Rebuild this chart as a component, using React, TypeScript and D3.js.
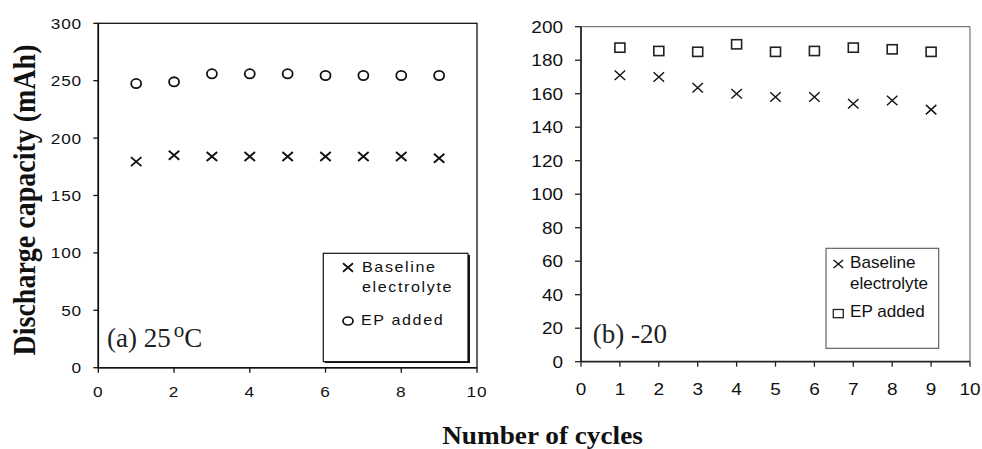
import React from "react";
import * as d3 from "d3";

// Cycle numbers shared by both panels
const cycles = [1, 2, 3, 4, 5, 6, 7, 8, 9];

// (a) 25 °C discharge capacity (mAh)
const baseline25 = [179.5, 185, 184, 184, 184, 184, 184, 184, 182.5];
const ep25 = [247.5, 249, 256, 256, 256, 254.5, 254.5, 254.5, 254.5];

// (b) -20 discharge capacity (mAh)
const baselineM20 = [171, 170, 163.5, 160, 158, 158, 154, 156, 150.5];
const epM20 = [187.5, 185.5, 185, 189.5, 185, 185.5, 187.5, 186.5, 185];

// Axis ticks
const xTicksA = [0, 2, 4, 6, 8, 10];
const yTicksA = [0, 50, 100, 150, 200, 250, 300];
const xTicksB = [0, 1, 2, 3, 4, 5, 6, 7, 8, 9, 10];
const yTicksB = [0, 20, 40, 60, 80, 100, 120, 140, 160, 180, 200];

const legendBaseline = ["Baseline", "electrolyte"];
const legendEP = "EP added";

const SANS = "'Liberation Sans', Arial, Helvetica, sans-serif";
const SERIF = "'Liberation Serif', 'Times New Roman', serif";

type STextProps = {
  x: number;
  y: number;
  sx?: number;
  anchor?: "start" | "middle" | "end";
  size: number;
  family?: string;
  spacing?: number;
  weight?: string | number;
  fill?: string;
  children: React.ReactNode;
};

// Text drawn with a horizontal stretch factor
function SText({ x, y, sx = 1, anchor = "start", size, family = SANS, spacing = 0, weight = "normal", fill = "#111", children }: STextProps) {
  return (
    <text
      transform={`translate(${x},${y}) scale(${sx},1)`}
      textAnchor={anchor}
      fontSize={size}
      fontFamily={family}
      letterSpacing={spacing}
      fontWeight={weight}
      fill={fill}
    >
      {children}
    </text>
  );
}

function Cross({ cx, cy, w, h, sw }: { cx: number; cy: number; w: number; h: number; sw: number }) {
  return (
    <path
      d={`M${cx - w / 2},${cy - h / 2}L${cx + w / 2},${cy + h / 2}M${cx - w / 2},${cy + h / 2}L${cx + w / 2},${cy - h / 2}`}
      stroke="#111"
      strokeWidth={sw}
      fill="none"
    />
  );
}

export default function App() {
  // Panel (a)
  const xA = d3.scaleLinear().domain([0, 10]).range([98.3, 477]);
  const yA = d3.scaleLinear().domain([0, 300]).range([367.7, 23.3]);
  // Panel (b)
  const xB = d3.scaleLinear().domain([0, 10]).range([581, 970]);
  const yB = d3.scaleLinear().domain([0, 200]).range([361.7, 26.7]);

  return (
    <svg
      width={982}
      height={449}
      viewBox="0 0 982 449"
      style={{ position: "absolute", left: 0, top: 0, background: "#fff" }}
    >
      <rect x={0} y={0} width={982} height={449} fill="#fff" />

      {/* ---------- Panel (a) ---------- */}
      <g>
        <rect
          x={xA(0)}
          y={yA(300)}
          width={xA(10) - xA(0)}
          height={yA(0) - yA(300)}
          fill="none"
          stroke="#111"
          strokeWidth={1.3}
        />
        <line x1={xA(0)} x2={xA(0)} y1={yA(300)} y2={yA(0)} stroke="#111" strokeWidth={1.6} />
        <line x1={xA(0)} x2={xA(10)} y1={yA(0)} y2={yA(0)} stroke="#111" strokeWidth={1.6} />
        {yTicksA.map((t) => (
          <g key={`ya${t}`}>
            <line x1={xA(0) - 5} x2={xA(0)} y1={yA(t)} y2={yA(t)} stroke="#111" strokeWidth={1.3} />
            <SText x={82} y={yA(t) + 5.5} anchor="end" size={15} sx={1.15} spacing={0.7}>
              {t}
            </SText>
          </g>
        ))}
        {xTicksA.map((t) => (
          <g key={`xa${t}`}>
            <line x1={xA(t)} x2={xA(t)} y1={yA(0)} y2={yA(0) + 5} stroke="#111" strokeWidth={1.3} />
            <SText x={xA(t)} y={397} anchor="middle" size={15} sx={1.15} spacing={0.7}>
              {t}
            </SText>
          </g>
        ))}

        {ep25.map((v, i) => (
          <ellipse key={`ea${i}`} cx={xA(cycles[i])} cy={yA(v)} rx={5} ry={4.6} fill="none" stroke="#111" strokeWidth={1.8} />
        ))}
        {baseline25.map((v, i) => (
          <Cross key={`ba${i}`} cx={xA(cycles[i])} cy={yA(v)} w={10.5} h={9} sw={1.9} />
        ))}

        {/* legend */}
        <rect x={325} y={255} width={145} height={108} fill="#111" />
        <rect x={323.3} y={253.3} width={144.7} height={108.4} fill="#fff" stroke="#111" strokeWidth={1.2} />
        <Cross cx={348} cy={267.5} w={10} h={8.5} sw={1.7} />
        <SText x={362} y={272} size={14} sx={1.15} spacing={1.4}>{legendBaseline[0]}</SText>
        <SText x={362} y={292} size={14} sx={1.15} spacing={1.4}>{legendBaseline[1]}</SText>
        <ellipse cx={348} cy={321} rx={5} ry={4} fill="none" stroke="#111" strokeWidth={1.7} />
        <SText x={361} y={325} size={14} sx={1.15} spacing={1.4}>{legendEP}</SText>

        <text x={107} y={347} fontFamily={SERIF} fontSize={27} fill="#222">
          (a) 25
          <tspan dx={3} dy={-10} fontSize={21}>o</tspan>
          <tspan dy={10}>C</tspan>
        </text>
      </g>

      {/* ---------- Panel (b) ---------- */}
      <g>
        <line x1={xB(0)} x2={xB(10)} y1={yB(200)} y2={yB(200)} stroke="#777" strokeWidth={1.2} />
        <line x1={xB(10)} x2={xB(10)} y1={yB(200)} y2={yB(0)} stroke="#777" strokeWidth={1.2} />
        <line x1={xB(0)} x2={xB(0)} y1={yB(200)} y2={yB(0)} stroke="#222" strokeWidth={1.8} />
        <line x1={xB(0)} x2={xB(10)} y1={yB(0)} y2={yB(0)} stroke="#222" strokeWidth={1.8} />
        {yTicksB.map((t) => (
          <g key={`yb${t}`}>
            <line x1={xB(0) - 6} x2={xB(0)} y1={yB(t)} y2={yB(t)} stroke="#222" strokeWidth={1.3} />
            <SText x={563} y={yB(t) + 6} anchor="end" size={16.5} sx={1.15}>
              {t}
            </SText>
          </g>
        ))}
        {xTicksB.map((t) => (
          <g key={`xb${t}`}>
            <line x1={xB(t)} x2={xB(t)} y1={yB(0)} y2={yB(0) + 5} stroke="#222" strokeWidth={1.3} />
            <SText x={xB(t)} y={395} anchor="middle" size={16.5} sx={1.15}>
              {t}
            </SText>
          </g>
        ))}

        {epM20.map((v, i) => (
          <rect key={`eb${i}`} x={xB(cycles[i]) - 5} y={yB(v) - 4.6} width={10} height={9.2} fill="none" stroke="#222" strokeWidth={1.6} />
        ))}
        {baselineM20.map((v, i) => (
          <Cross key={`bb${i}`} cx={xB(cycles[i])} cy={yB(v)} w={10.5} h={9.5} sw={1.4} />
        ))}

        {/* legend */}
        <rect x={826} y={248.3} width={112.7} height={100} fill="#fff" stroke="#555" strokeWidth={1.1} />
        <Cross cx={838.3} cy={264} w={9.5} h={8} sw={1.4} />
        <SText x={850} y={268.3} size={16} sx={1.07}>{legendBaseline[0]}</SText>
        <SText x={850} y={288.5} size={16} sx={1.07}>{legendBaseline[1]}</SText>
        <rect x={833.3} y={309.5} width={10} height={8.2} fill="none" stroke="#222" strokeWidth={1.3} />
        <SText x={850} y={316.7} size={16} sx={1.07}>{legendEP}</SText>

        <text x={592.7} y={343.3} fontFamily={SERIF} fontSize={27} fill="#222">
          (b) -20
        </text>
      </g>

      {/* ---------- Shared axis titles ---------- */}
      <text
        transform="translate(35,200) rotate(-90) scale(1,1.12)"
        textAnchor="middle"
        fontFamily={SERIF}
        fontWeight="bold"
        fontSize={28}
        fill="#111"
      >
        Discharge capacity (mAh)
      </text>
      <SText x={542.5} y={444} anchor="middle" size={25} sx={1.09} family={SERIF} weight="bold" fill="#111">
        Number of cycles
      </SText>
    </svg>
  );
}
